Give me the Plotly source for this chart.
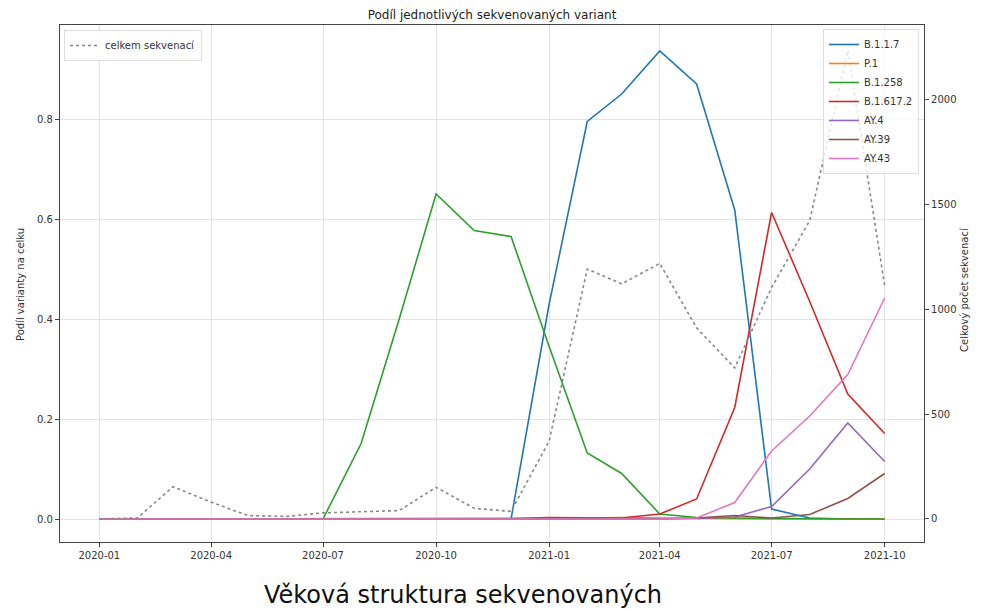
import plotly.graph_objects as go

months = ["2020-01-01", "2020-02-01", "2020-03-01", "2020-04-01", "2020-05-01", "2020-06-01",
          "2020-07-01", "2020-08-01", "2020-09-01", "2020-10-01", "2020-11-01", "2020-12-01",
          "2021-01-01", "2021-02-01", "2021-03-01", "2021-04-01", "2021-05-01", "2021-06-01",
          "2021-07-01", "2021-08-01", "2021-09-01", "2021-10-01"]

b117 = [0, 0, 0, 0, 0, 0, 0, 0, 0, 0, 0, 0,
        0.43, 0.795, 0.85, 0.936, 0.87, 0.618, 0.02, 0.002, 0.0, 0.0]
p1 = [0, 0, 0, 0, 0, 0, 0, 0, 0, 0, 0, 0,
      0, 0.002, 0.003, 0.002, 0.001, 0, 0, 0, 0, 0]
b1258 = [0, 0, 0, 0, 0, 0, 0, 0.151, 0.40, 0.650, 0.577, 0.565,
         0.345, 0.132, 0.091, 0.010, 0.003, 0.002, 0.001, 0.0, 0.0, 0.0]
b16172 = [0, 0, 0, 0, 0, 0, 0, 0, 0, 0, 0, 0.001,
          0.003, 0.002, 0.002, 0.010, 0.040, 0.223, 0.613, 0.435, 0.25, 0.171]
ay4 = [0, 0, 0, 0, 0, 0, 0, 0, 0, 0, 0, 0,
       0, 0, 0, 0, 0.001, 0.004, 0.025, 0.10, 0.192, 0.115]
ay39 = [0, 0, 0, 0, 0, 0, 0, 0, 0, 0, 0, 0,
        0, 0, 0, 0, 0.002, 0.007, 0.002, 0.009, 0.041, 0.091]
ay43 = [0, 0, 0, 0, 0, 0, 0, 0, 0, 0, 0, 0,
        0, 0, 0, 0, 0.002, 0.033, 0.136, 0.206, 0.289, 0.442]
total = [0, 5, 154, 80, 16, 12, 29, 36, 40, 151, 51, 36,
         372, 1193, 1122, 1220, 912, 721, 1105, 1424, 2236, 1114]

variant_names = ["B.1.1.7", "P.1", "B.1.258", "B.1.617.2", "AY.4", "AY.39", "AY.43"]
variant_values = [b117, p1, b1258, b16172, ay4, ay39, ay43]
colors = ["#1f77b4", "#ff7f0e", "#2ca02c", "#d62728", "#9467bd", "#8c564b", "#e377c2"]

font_family = "DejaVu Sans"
axis_col = "#444444"
text_col = "#333333"

# page body has an 8px margin; lay out in page coordinates then shift
OFF = 8
W, H = 986, 612
PL, PR, PT, PB = 60, 924, 25, 542      # plot frame in page pixels
ML, MT = PL - OFF, PT - OFF
MR, MB = W - (PR - OFF), H - (PB - OFF)
PW, PH = PR - PL, PB - PT


def px_x(x):
    return (x - PL) / PW


def px_y(y):
    return (PB - y) / PH


fig = go.Figure()
for name, vals, col in zip(variant_names, variant_values, colors):
    fig.add_trace(go.Scatter(x=months, y=vals, name=name, mode="lines",
                             line=dict(color=col, width=1.6), yaxis="y",
                             legend="legend2"))

fig.add_trace(go.Scatter(x=months, y=total, name="celkem sekvenací", mode="lines",
                         line=dict(color="#888888", width=1.6, dash="dot"),
                         yaxis="y2", legend="legend"))

fig.update_layout(
    width=W, height=H,
    margin=dict(l=ML, r=MR, t=MT, b=MB, autoexpand=False),
    paper_bgcolor="white", plot_bgcolor="white",
    font=dict(family=font_family, size=10, color=text_col),
    title=dict(text="Podíl jednotlivých sekvenovaných variant", x=0.5, xref="paper",
               xanchor="center", yref="container", y=1 - 3 / H, yanchor="top",
               font=dict(size=12, color="#222222"), automargin=False,
               pad=dict(t=0, b=0)),
    xaxis=dict(
        type="date", automargin=False,
        range=["2019-11-30 00:00", "2021-11-02 00:00"],
        tickformat="%Y-%m", dtick="M3", tick0="2020-01-01",
        showgrid=True, gridcolor="#e3e3e3", gridwidth=1,
        showline=True, linecolor=axis_col, linewidth=1.2, mirror=True,
        ticks="outside", ticklen=4, tickcolor=axis_col,
        tickfont=dict(size=10, color=text_col),
        zeroline=False,
    ),
    yaxis=dict(
        automargin=False,
        range=[-0.046, 0.988],
        tickvals=[0.0, 0.2, 0.4, 0.6, 0.8],
        ticktext=["0.0", "0.2", "0.4", "0.6", "0.8"],
        showgrid=True, gridcolor="#e3e3e3", gridwidth=1,
        showline=True, linecolor=axis_col, linewidth=1.2,
        ticks="outside", ticklen=4, tickcolor=axis_col,
        tickfont=dict(size=10, color=text_col),
        zeroline=False,
    ),
    yaxis2=dict(
        automargin=False,
        range=[-110, 2358],
        overlaying="y", side="right",
        tickvals=[0, 500, 1000, 1500, 2000],
        showgrid=False,
        showline=True, linecolor=axis_col, linewidth=1.2,
        ticks="outside", ticklen=4, tickcolor=axis_col,
        tickfont=dict(size=10, color=text_col),
        zeroline=False,
    ),
    legend=dict(
        x=px_x(64), y=px_y(30), xanchor="left", yanchor="top",
        bgcolor="rgba(255,255,255,0.85)", bordercolor="#dddddd", borderwidth=1,
        font=dict(size=10, color=text_col),
    ),
    legend2=dict(
        x=px_x(919), y=px_y(29), xanchor="right", yanchor="top",
        bgcolor="rgba(255,255,255,0.8)", bordercolor="#dddddd", borderwidth=1,
        font=dict(size=10, color=text_col),
        tracegroupgap=0,
    ),
    showlegend=True,
)

# axis titles as annotations
fig.add_annotation(
    text="Podíl varianty na celku", xref="paper", yref="paper",
    x=px_x(20), y=px_y(285), textangle=-90,
    xanchor="center", yanchor="middle", showarrow=False,
    font=dict(size=10, color=text_col),
)
fig.add_annotation(
    text="Celkový počet sekvenací", xref="paper", yref="paper",
    x=px_x(964), y=px_y(290), textangle=-90,
    xanchor="center", yanchor="middle", showarrow=False,
    font=dict(size=10, color=text_col),
)

fig.add_annotation(
    text="Věková struktura sekvenovaných",
    xref="paper", yref="paper",
    x=px_x(262), y=px_y(595),
    xanchor="left", yanchor="middle", showarrow=False,
    font=dict(family=font_family, size=24, color="#111111"),
)

fig.write_html("out.html")
